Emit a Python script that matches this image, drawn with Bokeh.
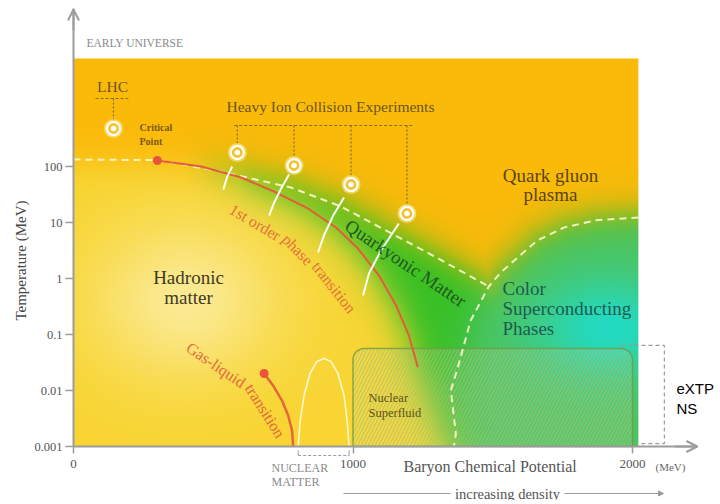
import numpy as np
from bokeh.plotting import figure
from bokeh.models import (Label, Arrow, OpenHead, NormalHead, FixedTicker,
                          CustomJSTickFormatter, Range1d)
from bokeh.embed import file_html
from bokeh.resources import INLINE

# ---------------- data ----------------
MU_TICKS = [0, 1000, 2000]
T_TICKS = [0.001, 0.01, 0.1, 1, 10, 100]

# crossover / quarkyonic boundary (white dashed)
CROSS_MU = [0, 300, 518, 779, 957, 1279, 1486]
CROSS_T = [133, 130, 83, 42, 19.3, 2.68, 0.72]
# 1st order phase transition (red)
FIRST_MU = [300, 457, 600, 725, 839, 939, 1018, 1093, 1154, 1200, 1232]
FIRST_T = [128, 100, 63.7, 34.3, 17.8, 8.15, 3.43, 1.13, 0.33, 0.096, 0.026]
# colour superconducting dome (white dashed)
CSC_MU = [2021, 1870, 1754, 1660, 1589, 1530, 1486, 1421, 1375, 1350, 1368, 1361]
CSC_T = [12.3, 11.0, 8.1, 4.8, 2.37, 1.3, 0.72, 0.178, 0.0258, 0.01, 0.0017, 0.001]
# gas-liquid transition (red)
GL_MU = [682, 714, 746, 768, 782, 786]
GL_T = [0.0201, 0.0123, 0.00662, 0.00358, 0.00193, 0.001]
# nuclear matter arch (white)
NUC_MU = [804, 811, 825, 846, 871, 896, 921, 946, 968, 979, 986]
NUC_T = [0.001, 0.00291, 0.00815, 0.0201, 0.033, 0.0372, 0.033, 0.0201, 0.00815, 0.00291, 0.001]
# critical points
CRIT_MU = [300, 682]
CRIT_T = [128, 0.0201]
# experiments
EXP_MU = [586, 789, 993, 1193]
EXP_T = [178, 104, 47.7, 14.5]
EXP_BRACKET_MU = [575, 1214]
EXP_BRACKET_T = 540
LHC_MU = [143]
LHC_T = [477]
LHC_BRACKET_MU = [79, 196]
LHC_BRACKET_T = 1637
# trajectories (white)
TRAJ_MU = [[568, 550, 536], [771, 743, 718, 700], [968, 929, 896, 875], [1164, 1100, 1057, 1036]]
TRAJ_T = [[100, 66, 38.8], [72, 40.5, 22.8, 13.3], [27.9, 13.3, 5.86, 2.91], [9.6, 3.16, 1.23, 0.497]]
# nuclear superfluid box, eXTP box, nuclear matter bracket
SF_MU = [1000, 2000]
SF_T = [0.001, 0.056]
EXTP_MU = [1957, 2114, 2021]
EXTP_T = [0.00113, 0.0637]
NM_MU = [804, 986]
# colour map extent and hadron glow edge at the axis
MAP_MU = 2021
MAP_T = 8490
HAD_EDGE_MU = [1345]
HAD_EDGE_T = [0.001]
X_AXIS_END = 2232

# ---------------- figure geometry (frame = whole canvas) ----------------
W, H = 716, 500
X0, Y0 = 73.0, 446.0          # page position of (0 MeV, 0.001 MeV)
KX = (632 - 73) / 2000.0      # px per MeV
KY = 56.0                     # px per decade


def mu_of(px):
    return (px - X0) / KX


def t_of(py):
    return 10 ** (-3 + (Y0 - py) / KY)


p = figure(width=W, height=H, output_backend="svg", toolbar_location=None,
           y_axis_type="log", x_range=Range1d(mu_of(0), mu_of(W)),
           y_range=Range1d(t_of(H), t_of(0)), min_border=0)
p.outline_line_color = None
p.grid.visible = False
p.background_fill_color = "white"
p.border_fill_color = "white"

# ---------------- background colour field ----------------
nx, ny = int(MAP_MU * KX), int((np.log10(MAP_T) + 3) * KY)
mu_c = (np.arange(nx) + 0.5) / nx * MAP_MU
lt_c = -3 + (np.arange(ny) + 0.5) / ny * (np.log10(MAP_T) + 3)
A, B = np.meshgrid(mu_c * KX, lt_c * KY)


def poly(mu, t):
    return np.array(mu, float) * KX, np.log10(np.array(t, float)) * KY


def pdist(pa, pb):
    d = np.full(A.shape, 1e9)
    for i in range(len(pa) - 1):
        x0, y0, x1, y1 = pa[i], pb[i], pa[i + 1], pb[i + 1]
        dx, dy = x1 - x0, y1 - y0
        L2 = dx * dx + dy * dy
        t = np.clip(((A - x0) * dx + (B - y0) * dy) / L2, 0, 1)
        d = np.minimum(d, np.hypot(A - x0 - t * dx, B - y0 - t * dy))
    return d


def sig(x):
    return 1 / (1 + np.exp(-x))


Ha, Hb = poly(CROSS_MU[:2] + FIRST_MU[1:] + HAD_EDGE_MU, CROSS_T[:2] + FIRST_T[1:] + HAD_EDGE_T)
inH = (A <= Ha.max()) & (B < np.interp(A, Ha, Hb))
sdH = pdist(Ha, Hb) * np.where(inH, 1, -1)

k = CSC_MU.index(1486)
Ua, Ub = poly(CROSS_MU + CSC_MU[k - 1::-1], CROSS_T + CSC_T[k - 1::-1])
inU = B < np.interp(A, Ua, Ub)
sdU = pdist(Ua, Ub) * np.where(inU, 1, -1)

Da, Db = poly(CSC_MU, CSC_T)
inD = A > np.interp(B, Db[::-1], Da[::-1], right=1e9)
sdD = pdist(Da, Db) * np.where(inD, 1, -1)

O = np.array([251, 186, 10.0])
YL = np.array([248, 213, 50.0])
YLIGHT = np.array([252, 238, 165.0])
G1 = np.array([52, 192, 36.0])
G2 = np.array([78, 196, 98.0])
TE = np.array([32, 220, 200.0])

wl = np.exp(-((A - 112) / 95) ** 2 - ((B + 22) / 80) ** 2)[..., None] * 0.85
yel = YL * (1 - wl) + YLIGHT * wl
wc = sig(sdD / 12)[..., None]
g = G1 * (1 - wc) + G2 * wc
wt = (np.exp(-((A - 535) / 75) ** 2 - ((B + 50) / 50) ** 2) * 0.95)[..., None]
g = g * (1 - wt) + TE * wt
wg = (sig((sdU + 5) / 9) * np.clip((A - 110) / 70, 0, 1))[..., None]
col = O * (1 - wg) + g * wg
wy = sig((sdH - 3) / 10)[..., None]
col = col * (1 - wy) + yel * wy

rgba = np.empty((ny, nx, 4), dtype=np.uint8)
rgba[..., :3] = np.clip(col, 0, 255).astype(np.uint8)
rgba[..., 3] = 255
img = rgba.view(dtype=np.uint32).reshape((ny, nx))
p.image_rgba(image=[img], x=0, y=0.001, dw=MAP_MU, dh=MAP_T - 0.001)

# ---------------- nuclear superfluid hatched box ----------------
a0, a1 = SF_MU[0] * KX, SF_MU[1] * KX
b0, b1 = np.log10(SF_T[0]) * KY, np.log10(SF_T[1]) * KY
r = 11
th = np.linspace(0, np.pi / 2, 10)
pa = [a0, a0] + list(a0 + r - r * np.cos(th)) + list(a1 - r + r * np.sin(th)) + [a1]
pb = [b0, b1 - r] + list(b1 - r + r * np.sin(th)) + list(b1 - r + r * np.cos(th)) + [b0]
p.patch(np.array(pa) / KX, 10 ** (np.array(pb) / KY), fill_color="white", fill_alpha=0.07,
        hatch_pattern="/", hatch_color="#a6bf72", hatch_alpha=0.7, hatch_scale=7,
        hatch_weight=1.1, line_color="#6f9a4a", line_alpha=0.8, line_width=1.5)

# eXTP dashed box
p.line([EXTP_MU[0], EXTP_MU[1], EXTP_MU[1], EXTP_MU[2]],
       [EXTP_T[1], EXTP_T[1], EXTP_T[0], EXTP_T[0]],
       line_color="#9a9a9a", line_width=1.2, line_dash="4 3")

# ---------------- phase lines ----------------
p.line(CROSS_MU, CROSS_T, line_color="#fff6cc", line_alpha=0.9, line_width=2, line_dash="7 5")
p.line(CSC_MU, CSC_T, line_color="#fff6cc", line_alpha=0.9, line_width=2, line_dash="7 5")
p.line(FIRST_MU, FIRST_T, line_color="#e25d3a", line_width=2)
p.line(GL_MU, GL_T, line_color="#e6663a", line_width=2.5)
p.line(NUC_MU, NUC_T, line_color="#fff7cf", line_width=1.6)
p.multi_line(TRAJ_MU, TRAJ_T, line_color="white", line_width=2, line_alpha=0.95)

# experiment brackets
BR = "#8a6a2a"
p.line(EXP_BRACKET_MU, [EXP_BRACKET_T] * 2, line_color=BR, line_width=1.2, line_dash="3 2")
p.multi_line([[m, m] for m in EXP_MU], [[EXP_BRACKET_T, t] for t in EXP_T],
             line_color=BR, line_width=1.2, line_dash="2 2")
p.line(LHC_BRACKET_MU, [LHC_BRACKET_T] * 2, line_color=BR, line_width=1.2, line_dash="3 2")
p.multi_line([[LHC_MU[0], LHC_MU[0]]], [[LHC_BRACKET_T, LHC_T[0]]],
             line_color=BR, line_width=1.2, line_dash="2 2")

# markers
for mu, t in ((EXP_MU, EXP_T), (LHC_MU, LHC_T)):
    p.scatter(mu, t, size=19, fill_color="#fff3b0", fill_alpha=0.55, line_color=None)
    p.scatter(mu, t, size=13, fill_color="#f3c232", line_color="white", line_width=2.2)
    p.scatter(mu, t, size=5.5, fill_color="white", line_color=None)
p.scatter(CRIT_MU, CRIT_T, size=9, fill_color="#e8553a", line_color=None)

# ---------------- axes (fixed inside the full-canvas frame) ----------------
GREY = "#9c9c9c"
for ax in (p.xaxis, p.yaxis):
    ax.axis_line_color = GREY
    ax.axis_line_width = 2
    ax.major_tick_line_color = GREY
    ax.major_tick_line_width = 1.5
    ax.major_tick_in = 0
    ax.minor_tick_line_color = None
    ax.major_label_text_font = "Liberation Serif"
    ax.major_label_text_color = "#555555"
p.xaxis.fixed_location = 0.001
p.yaxis.fixed_location = 0
p.xaxis.ticker = FixedTicker(ticks=MU_TICKS)
p.xaxis.bounds = (0, X_AXIS_END)
p.xaxis.major_tick_out = 7
p.xaxis.major_label_standoff = 6
p.xaxis.major_label_text_font_size = "13px"
p.yaxis.ticker = FixedTicker(ticks=T_TICKS)
p.yaxis.formatter = CustomJSTickFormatter(code="return String(tick)")
p.yaxis.bounds = (0.001, t_of(8))
p.yaxis.major_tick_out = 8
p.yaxis.major_label_standoff = 3
p.yaxis.major_label_text_font_size = "12.5px"

HEAD = dict(size=11, line_color=GREY, line_width=2)
p.add_layout(Arrow(end=OpenHead(**HEAD), line_color=GREY, line_width=2,
                   x_start=0, y_start=t_of(30), x_end=0, y_end=t_of(9)))
p.add_layout(Arrow(end=OpenHead(**HEAD), line_color=GREY, line_width=2,
                   x_start=X_AXIS_END - 80, y_start=0.001, x_end=X_AXIS_END, y_end=0.001))

# nuclear matter bracket and density arrow (below the axis)
y_nm = t_of(455)
p.line(NM_MU, [y_nm, y_nm], line_color=GREY, line_width=1, line_dash="3 2")
p.multi_line([[m, m] for m in NM_MU], [[y_nm, t_of(450)]] * 2, line_color=GREY, line_width=1)
y_den = t_of(493)
p.line([mu_of(343), mu_of(450)], [y_den, y_den], line_color=GREY, line_width=1)
p.add_layout(Arrow(end=NormalHead(size=5, fill_color=GREY, line_color=GREY),
                   x_start=mu_of(564), y_start=y_den, x_end=mu_of(663), y_end=y_den,
                   line_color=GREY, line_width=1))

# ---------------- texts ----------------
SERIF = "Liberation Serif"


def lab(text, px, py, size, color, align="center", angle=0, font=SERIF, style="normal"):
    p.add_layout(Label(x=mu_of(px), y=t_of(py), text=text, text_font=font,
                       text_font_size=f"{size}px", text_color=color, text_align=align,
                       text_baseline="middle", angle=angle, angle_units="deg",
                       text_font_style=style))


EMW = {"a": .444, "c": .444, "d": .5, "e": .444, "g": .5, "h": .5, "i": .278, "l": .278,
       "n": .5, "o": .5, "p": .5, "q": .5, "r": .333, "s": .389, "t": .278, "u": .5,
       "1": .5, "-": .333, "G": .722}


def path_text(words, pts, size, color, s0=0.0, gap=0.25):
    pts = np.array(pts, float)
    seg = np.hypot(*np.diff(pts, axis=0).T)
    cum = np.concatenate([[0], np.cumsum(seg)])
    s = s0
    for w in words:
        wl = sum(EMW.get(c, 0.5) for c in w) * size
        c = s + wl / 2
        i = int(np.clip(np.searchsorted(cum, c) - 1, 0, len(seg) - 1))
        f = (c - cum[i]) / seg[i]
        x = pts[i, 0] + f * (pts[i + 1, 0] - pts[i, 0])
        y = pts[i, 1] + f * (pts[i + 1, 1] - pts[i, 1])
        ang = -np.degrees(np.arctan2(pts[i + 1, 1] - pts[i, 1], pts[i + 1, 0] - pts[i, 0]))
        lab(w, x, y, size, color, angle=ang)
        s += wl + gap * size


lab("EARLY UNIVERSE", 86, 42, 11.5, "#8a8a8a", align="left")
lab("LHC", 112, 86, 15.5, "#6b5520")
lab("Critical", 139, 127, 10, "#7a5a12", align="left", style="bold")
lab("Point", 139, 141, 10, "#7a5a12", align="left", style="bold")
lab("Heavy Ion Collision Experiments", 330, 106, 15.5, "#6b5520")
lab("Quark gluon", 550, 175, 19, "#5a4510")
lab("plasma", 550, 194, 19, "#5a4510")
lab("Hadronic", 188, 277, 19, "#3f3a22")
lab("matter", 188, 297, 19, "#3f3a22")
lab("Color", 502, 288, 19, "#1d5c50", align="left")
lab("Superconducting", 502, 308, 19, "#1d5c50", align="left")
lab("Phases", 502, 328, 19, "#1d5c50", align="left")
lab("Quarkyonic Matter", 405, 263, 18.5, "#1f5a1f", angle=-34)
path_text(["1st", "order", "phase", "transition"],
          [(229, 206), (238, 212), (265, 228), (296, 248), (332, 285), (358, 318)],
          16, "#e6703a", s0=2)
path_text(["Gas-liquid", "transition"],
          [(185, 350), (215, 364), (240, 381), (258, 400), (272, 422), (283, 444)],
          16, "#e3683c", s0=0)
lab("Nuclear", 368, 397, 12.5, "#5c5220", align="left")
lab("Superfluid", 368, 412, 12.5, "#5c5220", align="left")
lab("eXTP", 676, 388, 15, "black", align="left", font="Liberation Sans")
lab("NS", 676, 408, 15, "black", align="left", font="Liberation Sans")
lab("Temperature (MeV)", 20, 260, 15, "#444444", angle=90)
lab("Baryon Chemical Potential", 403, 466, 16, "#555555", align="left")
lab("(MeV)", 655, 466, 11, "#666666", align="left")
lab("NUCLEAR", 271, 467, 12, "#8a8a8a", align="left")
lab("MATTER", 271, 481, 12, "#8a8a8a", align="left")
lab("increasing density", 507, 493, 14.5, "#555555")

open("out.html", "w").write(file_html(p, INLINE))
